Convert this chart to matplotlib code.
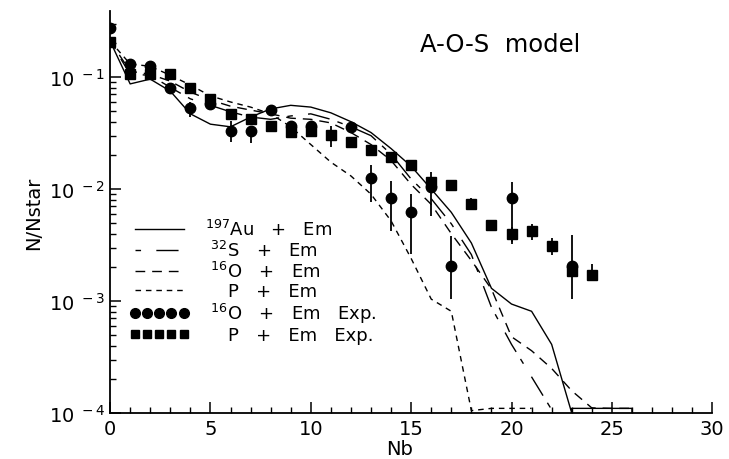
import numpy as np
import matplotlib.pyplot as plt
from matplotlib.lines import Line2D
from matplotlib.ticker import FixedLocator, FuncFormatter, MultipleLocator, NullFormatter

plt.rcParams['font.family'] = 'DejaVu Sans'

# ---------------------------------------------------------------------------
# Model curves (A-O-S)
# ---------------------------------------------------------------------------
au_nb = [0, 1, 2, 3, 4, 5, 6, 7, 8, 9, 10, 11, 12, 13, 14, 15, 16, 17, 18, 19,
         20, 21, 22, 23, 23, 26, 26]
au_val = [0.21, 0.087, 0.096, 0.075, 0.047, 0.038, 0.036, 0.044, 0.052, 0.056,
          0.054, 0.048, 0.040, 0.032, 0.023, 0.016, 0.010, 0.0062, 0.0033,
          0.0013, 0.00094, 0.00081, 0.00041, 1.0e-4, 1.1e-4, 1.1e-4, 1.0e-4]

s_nb = list(range(0, 23))
s_val = [0.21, 0.106, 0.104, 0.081, 0.064, 0.056, 0.049, 0.044, 0.042, 0.045,
         0.047, 0.042, 0.036, 0.030, 0.0205, 0.0123, 0.0082, 0.0049, 0.0026,
         0.00088, 0.00041, 0.00021, 1.07e-4]

o_nb = list(range(0, 27))
o_val = [0.21, 0.113, 0.106, 0.092, 0.0735, 0.0624, 0.055, 0.0508, 0.047,
         0.043, 0.042, 0.039, 0.032, 0.025, 0.018, 0.011, 0.0073, 0.0040,
         0.0023, 0.00128, 0.00048, 0.00036, 0.00025, 1.58e-4, 1.11e-4,
         1.1e-4, 1.1e-4]

p_nb = list(range(0, 22))
p_val = [0.21, 0.131, 0.125, 0.104, 0.085, 0.068, 0.060, 0.054, 0.047, 0.036,
         0.025, 0.0174, 0.0131, 0.0090, 0.0052, 0.0024, 0.00104, 0.00081,
         1.05e-4, 1.1e-4, 1.1e-4, 1.1e-4]

# ---------------------------------------------------------------------------
# Experimental points (value, lower, upper)
# ---------------------------------------------------------------------------
oexp_nb = [0, 1, 2, 3, 4, 5, 6, 7, 8, 9, 10, 12, 13, 14, 15, 16, 17, 20, 23]
oexp_val = [0.274, 0.131, 0.125, 0.080, 0.053, 0.057, 0.033, 0.033, 0.051,
            0.0365, 0.0365, 0.0358, 0.0125, 0.0083, 0.0062, 0.0104, 0.00205,
            0.0083, 0.00205]
oexp_lo = [0.274, 0.131, 0.125, 0.075, 0.044, 0.057, 0.0263, 0.0258, 0.0449,
           0.0365, 0.0365, 0.033, 0.00766, 0.00422, 0.00263, 0.00574, 0.00105,
           0.00337, 0.00105]
oexp_hi = [0.274, 0.131, 0.125, 0.086, 0.0598, 0.057, 0.0404, 0.0365, 0.0562,
           0.0365, 0.0365, 0.0396, 0.0164, 0.0118, 0.0090, 0.0142, 0.0038,
           0.01155, 0.0039]

pexp_nb = list(range(0, 25))
pexp_val = [0.205, 0.106, 0.106, 0.106, 0.080, 0.0636, 0.0468, 0.0422, 0.0365,
            0.0323, 0.033, 0.0303, 0.0263, 0.0223, 0.0193, 0.0164, 0.01155,
            0.0109, 0.00735, 0.00477, 0.00396, 0.00422, 0.0031, 0.00185, 0.0017]
pexp_lo = [0.205, 0.106, 0.106, 0.106, 0.080, 0.0636, 0.0468, 0.0422, 0.0365,
           0.0323, 0.033, 0.0237, 0.0263, 0.0223, 0.0193, 0.0164, 0.01155,
           0.0109, 0.0065, 0.00477, 0.00323, 0.0035, 0.00258, 0.00185, 0.00151]
pexp_hi = [0.205, 0.106, 0.106, 0.106, 0.080, 0.0636, 0.0468, 0.0422, 0.0365,
           0.0323, 0.033, 0.0365, 0.0263, 0.0223, 0.0193, 0.0164, 0.01155,
           0.0109, 0.0083, 0.00477, 0.00458, 0.00487, 0.00365, 0.00185, 0.00214]

labels = [r'$^{197}$Au   +   Em', r' $^{32}$S   +   Em', r' $^{16}$O   +   Em',
          r'    P   +   Em', r' $^{16}$O   +   Em   Exp.', r'    P   +   Em   Exp.']

S_DASH = (0, (4, 11, 16, 6))
O_DASH = (0, (7, 5))
P_DASH = (0, (4, 3.5))

fig = plt.figure(figsize=(7.29, 4.60), dpi=100)
ax = fig.add_axes([0.151, 0.10, 0.826, 0.874])

ax.plot(au_nb, au_val, color='k', lw=1.0, ls='-')
ax.plot(s_nb, s_val, color='k', lw=1.0, ls=S_DASH)
ax.plot(o_nb, o_val, color='k', lw=1.0, ls=O_DASH)
ax.plot(p_nb, p_val, color='k', lw=1.0, ls=P_DASH)


def draw_exp(nb, val, lo, hi, marker, ms):
    val = np.array(val)
    yerr = [val - np.array(lo), np.array(hi) - val]
    ax.errorbar(nb, val, yerr=yerr, fmt=marker, ms=ms, color='k',
                ecolor='k', elinewidth=1.3, capsize=0, zorder=3)


draw_exp(pexp_nb, pexp_val, pexp_lo, pexp_hi, 's', 6.5)
draw_exp(oexp_nb, oexp_val, oexp_lo, oexp_hi, 'o', 7.5)

ax.set_yscale('log')
ax.set_xlim(0, 30)
ax.set_ylim(1e-4, 0.39)

# spines / ticks in the old PAW style
ax.spines['top'].set_visible(False)
ax.spines['right'].set_visible(False)
ax.spines['left'].set_linewidth(1.3)
ax.spines['bottom'].set_linewidth(1.3)

ax.xaxis.set_major_locator(MultipleLocator(5))
ax.xaxis.set_minor_locator(MultipleLocator(1))
ax.yaxis.set_major_locator(FixedLocator([1e-4, 1e-3, 1e-2, 1e-1]))
ax.yaxis.set_minor_locator(FixedLocator(
    [m * 10.0 ** e for e in (-4, -3, -2, -1) for m in range(2, 10)]))
ax.yaxis.set_minor_formatter(NullFormatter())
ax.yaxis.set_major_formatter(FuncFormatter(
    lambda v, p: r'10$^{\ %d}$' % int(round(np.log10(v)))))

ax.tick_params(axis='both', which='major', direction='in', length=8,
               width=1.1, labelsize=14)
ax.tick_params(axis='both', which='minor', direction='in', length=4.5,
               width=1.0)
ax.tick_params(axis='y', which='major', pad=4)
ax.tick_params(axis='x', which='major', pad=4)

ax.set_xlabel('Nb', fontsize=14, labelpad=0)
ax.xaxis.set_label_coords(0.48, -0.065)
ax.set_ylabel('N/Nstar', fontsize=14, labelpad=4)

ax.text(0.648, 0.918, 'A-O-S  model', transform=ax.transAxes,
        fontsize=17.5, ha='center', va='center')

handles = [
    Line2D([], [], color='k', lw=1.0, ls='-'),
    Line2D([], [], color='k', lw=1.0, ls=S_DASH),
    Line2D([], [], color='k', lw=1.0, ls=O_DASH),
    Line2D([], [], color='k', lw=1.0, ls=P_DASH),
    Line2D([], [], color='k', ls='none', marker='o', ms=7),
    Line2D([], [], color='k', ls='none', marker='s', ms=6),
]
ax.legend(handles, labels, loc='upper left', bbox_to_anchor=(0.02, 0.50),
          frameon=False, fontsize=13, numpoints=5, handlelength=3.3,
          handletextpad=0.9, labelspacing=0.05, borderaxespad=0)

plt.savefig('out.png', dpi=100)
